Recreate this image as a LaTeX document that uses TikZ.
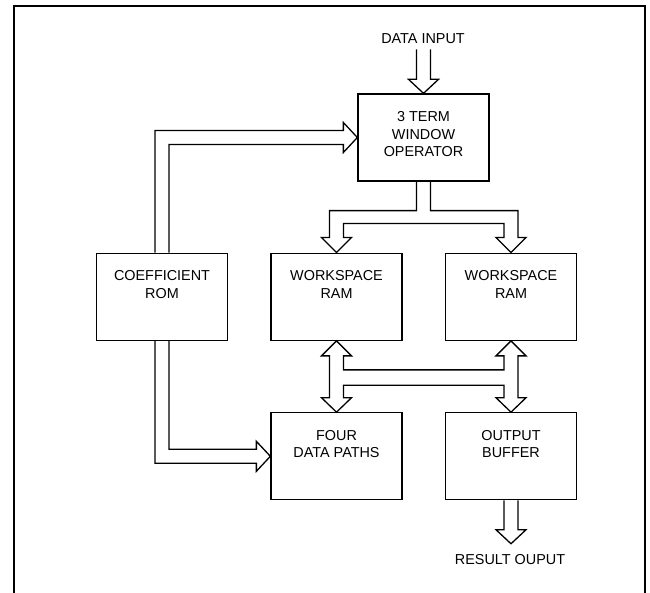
\documentclass[tikz,border=0pt]{standalone}
\usepackage{fontspec}
\setmainfont{Liberation Sans}
\usetikzlibrary{calc}
\begin{document}
\begin{tikzpicture}[x=1pt,y=-1pt,
  blk/.style={draw, line width=1.3pt, minimum width=131pt, minimum height=87pt, inner sep=0pt},
  lbl/.style={font=\fontsize{14.4}{17.5}\selectfont, align=center, inner sep=0pt},
  bus/.style={draw, line width=1.3pt, line join=miter}]
\useasboundingbox (0,0) rectangle (650,593);
\draw[line width=2pt] (14,593) -- (14,6) -- (645,6) -- (645,593);

\node[blk] (op)  at (423.5,137.5) {};
\node[blk] (rom) at (162,296.7) {};
\node[blk] (ws1) at (336.5,296.7) {};
\node[blk] (ws2) at (511,296.7) {};
\node[blk] (fdp) at (336.5,456.3) {};
\node[blk] (ob)  at (511,456.3) {};

\node[lbl, anchor=north] (opt)  at ($(op.north)+(0,18)$)  {3 TERM\\WINDOW\\OPERATOR};
\node[lbl, anchor=north] (romt) at ($(rom.north)+(0,18)$) {COEFFICIENT\\ROM};
\node[lbl, anchor=north] (ws1t) at ($(ws1.north)+(0,18)$) {WORKSPACE\\RAM};
\node[lbl, anchor=north] (ws2t) at ($(ws2.north)+(0,18)$) {WORKSPACE\\RAM};
\node[lbl, anchor=north] (fdpt) at ($(fdp.north)+(0,18)$) {FOUR\\DATA PATHS};
\node[lbl, anchor=north] (obt)  at ($(ob.north)+(0,18)$)  {OUTPUT\\BUFFER};

\node[lbl] (din) at (423,38.3) {DATA INPUT};
\node[lbl] (res) at (510,560) {RESULT OUPUT};

% data input arrow
\draw[bus] ($(op.north)+(-7,-44)$) -- ++(0,30) -- ++(-8,0) -- (op.north)
  -- ++(15,-14) -- ++(-8,0) -- ++(0,-30);

% coefficient ROM -> 3 term window operator
\draw[bus] ($(rom.north)+(-7,0)$) |- ($(op.west)+(-14,-7)$) -- ++(0,-8) -- (op.west)
  -- ++(-14,15) -- ++(0,-8) -| ($(rom.north)+(7,0)$);

% coefficient ROM -> four data paths
\draw[bus] ($(rom.south)+(7,0)$) |- ($(fdp.west)+(-14,-7)$) -- ++(0,-8) -- (fdp.west)
  -- ++(-14,15) -- ++(0,-8) -| ($(rom.south)+(-7,0)$);

% operator -> both workspace RAMs
\draw[bus] ($(op.south)+(-7,0)$) -- ++(0,29) -| ($(ws1.north)+(-7,-15)$) -- ++(-8,0)
  -- (ws1.north) -- ++(15,-15) -- ++(-8,0) |- ($(ws2.north)+(-7,-29)$)
  -- ($(ws2.north)+(-7,-15)$) -- ++(-8,0) -- (ws2.north) -- ++(15,-15) -- ++(-8,0)
  |- ($(op.south)+(7,29)$) -- ($(op.south)+(7,0)$);

% bidirectional bus between RAMs, data paths and output buffer
\draw[bus] (ws1.south) -- ++(15,15) -- ++(-8,0) |- ($(ws2.south)+(-7,29)$)
  -- ($(ws2.south)+(-7,15)$) -- ++(-8,0) -- (ws2.south) -- ++(15,15) -- ++(-8,0)
  -- ($(ob.north)+(7,-14.4)$) -- ++(8,0) -- (ob.north) -- ++(-15,-14.4) -- ++(8,0)
  |- ($(ws1.south)+(7,44.3)$) -- ($(fdp.north)+(7,-14.4)$) -- ++(8,0) -- (fdp.north)
  -- ++(-15,-14.4) -- ++(8,0) -- ($(ws1.south)+(-7,15)$) -- ++(-8,0) -- cycle;

% result output arrow
\draw[bus] ($(ob.south)+(-7,0)$) -- ++(0,29.3) -- ++(-8,0) -- ($(ob.south)+(0,43.3)$)
  -- ++(15,-14) -- ++(-8,0) -- ($(ob.south)+(7,0)$);
\end{tikzpicture}
\end{document}
